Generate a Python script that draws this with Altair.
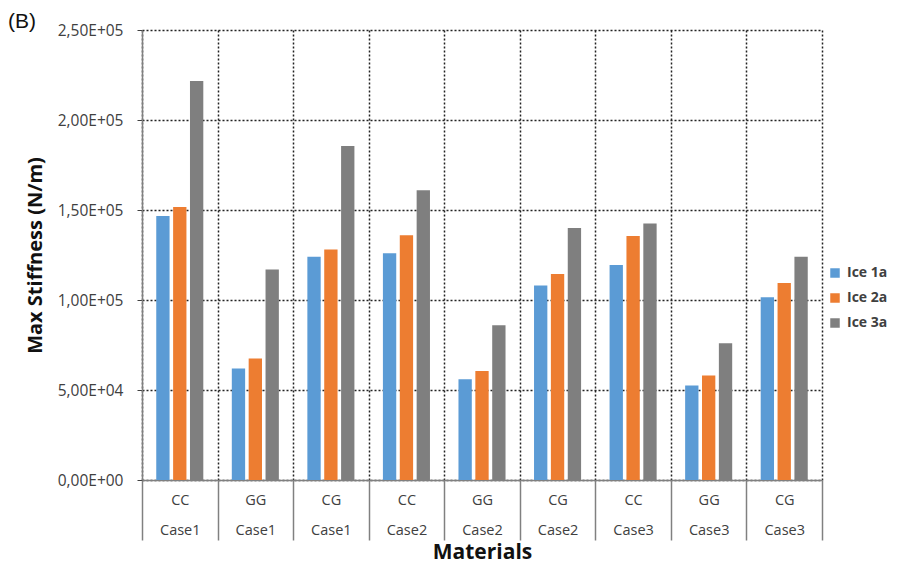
import altair as alt
import pandas as pd

materials = ["CC", "GG", "CG", "CC", "GG", "CG", "CC", "GG", "CG"]
cases = ["Case1", "Case1", "Case1", "Case2", "Case2", "Case2", "Case3", "Case3", "Case3"]
series = ["Ice 1a", "Ice 2a", "Ice 3a"]
ice1a = [146700, 62000, 124000, 126000, 56000, 108000, 119500, 52500, 101500]
ice2a = [151700, 67500, 128000, 136000, 60500, 114500, 135500, 58000, 109500]
ice3a = [221700, 117000, 185500, 161000, 86000, 140000, 142500, 76000, 124000]
colors = ["#5B9BD5", "#ED7D31", "#7F7F7F"]

cats = [f"{m} {c}" for m, c in zip(materials, cases)]
rows = []
for s, vals in zip(series, [ice1a, ice2a, ice3a]):
    for cat, v in zip(cats, vals):
        rows.append({"cat": cat, "series": s, "value": v})
df = pd.DataFrame(rows)

FONT = "Open Sans"

chart = alt.Chart(df).mark_bar().encode(
    x=alt.X("cat:N", sort=cats,
            scale=alt.Scale(paddingInner=0, paddingOuter=0),
            axis=alt.Axis(title="Materials", labelAngle=0,
                          labelExpr="split(datum.label, ' ')",
                          labelLineHeight=30, labelPadding=-47,
                          labelFont=FONT, labelFontSize=14.5, labelColor="#404040",
                          tickBand="extent", tickSize=60, tickColor="#808080", tickWidth=1.5,
                          domainColor="#808080", domainWidth=1.5,
                          grid=True, gridColor="#222222", gridDash=[2, 2], gridWidth=1.5,
                          titleFont=FONT, titleFontSize=21, titleFontWeight="bold",
                          titleColor="#111111", titlePadding=1)),
    xOffset=alt.XOffset("series:N", sort=series,
                        scale=alt.Scale(paddingInner=0.21, paddingOuter=0.845)),
    y=alt.Y("value:Q",
            scale=alt.Scale(domain=[0, 250000]),
            axis=alt.Axis(title="Max Stiffness (N/m)", values=[0, 50000, 100000, 150000, 200000, 250000],
                          labelExpr="replace(replace(format(datum.value, '.2e'), '.', ','), 'e+', 'E+0')",
                          labelFont=FONT, labelFontSize=15.5, labelColor="#404040", labelPadding=14,
                          tickSize=5, tickColor="#404040",
                          domainColor="#808080", domainWidth=1.5,
                          grid=True, gridColor="#222222", gridDash=[2, 2], gridWidth=1.5,
                          titleFont=FONT, titleFontSize=20, titleFontWeight="bold",
                          titleColor="#111111", titlePadding=12)),
    color=alt.Color("series:N", sort=series,
                    scale=alt.Scale(domain=series, range=colors),
                    legend=alt.Legend(title=None, orient="none", legendX=686, legendY=236,
                                      symbolType="square", symbolSize=90, symbolStrokeWidth=0,
                                      rowPadding=11, labelOffset=5, labelFont=FONT, labelFontSize=14,
                                      labelColor="#404040", labelFontWeight="bold")),
).properties(
    width=680, height=450,
    autosize=alt.AutoSizeParams(type="none"),
    padding={"left": 134, "top": 22, "right": 72, "bottom": 84},
    title=alt.TitleParams("(B)", anchor="start", frame="group", dx=-134, offset=-9,
                          fontSize=21, fontWeight="normal", font="Liberation Sans", color="#111111"),
).configure_view(stroke=None)

chart.save("out.html", embed_options={"renderer": "svg", "actions": False})
